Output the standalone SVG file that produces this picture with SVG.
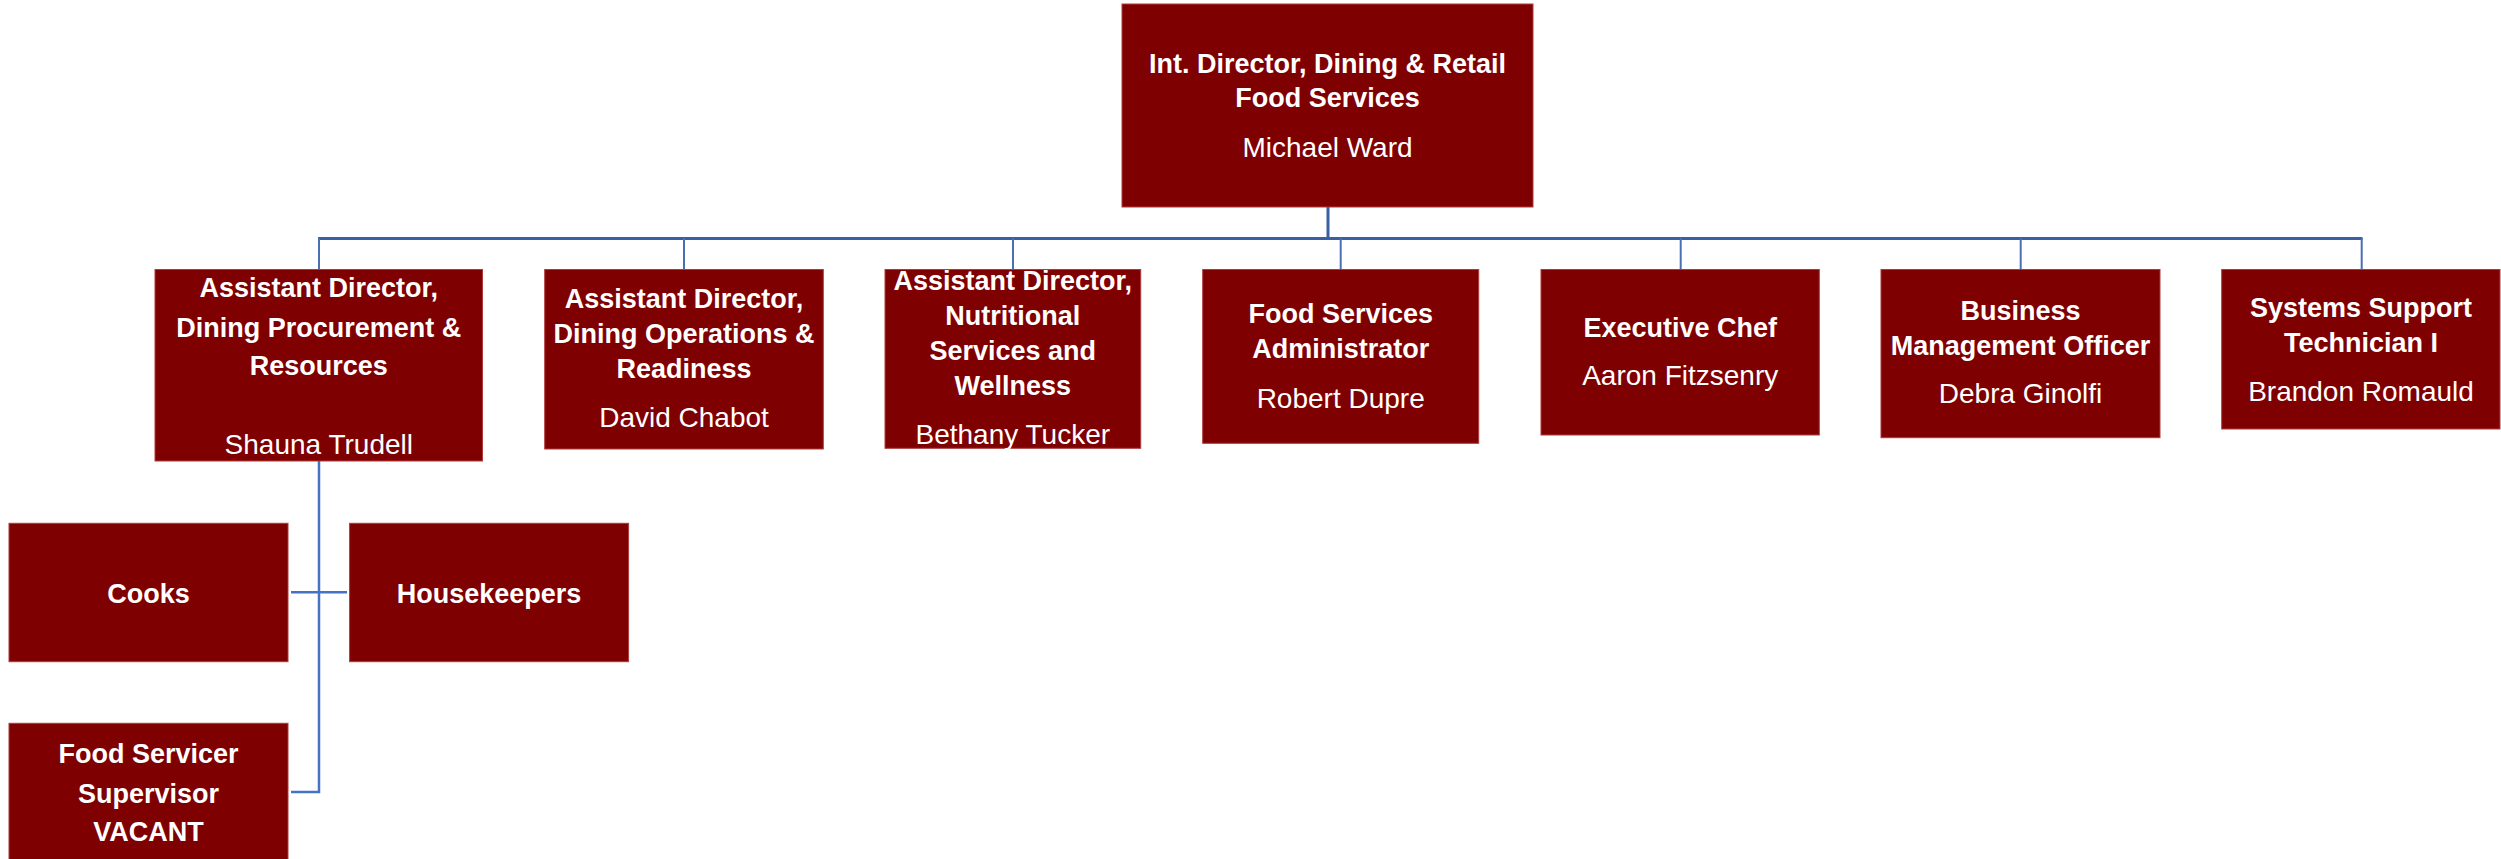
<svg xmlns="http://www.w3.org/2000/svg" width="2501" height="859" viewBox="0 0 2501 859">
<style>
.box{fill:#7F0000;stroke:#B03A3A;stroke-width:1}
.t{font-family:"Liberation Sans",Arial,sans-serif;font-weight:bold;font-size:27px;fill:#FFFFFF;text-anchor:middle}
.n{font-family:"Liberation Sans",Arial,sans-serif;font-size:28px;fill:#FFFFFF;text-anchor:middle}
.bus{fill:none;stroke:#3B5FA3;stroke-width:3}
.drop{fill:none;stroke:#4A6FB5;stroke-width:2}
.sub{fill:none;stroke:#4472C4;stroke-width:2.5}
</style>
<rect width="2501" height="859" fill="#FFFFFF"/>
<g id="connectors">
<line class="bus" x1="1328" y1="207" x2="1328" y2="238.5"/>
<line class="bus" x1="318" y1="238.5" x2="2362.5" y2="238.5"/>
<line class="drop" x1="319" y1="238" x2="319" y2="269"/>
<line class="drop" x1="684" y1="238" x2="684" y2="269"/>
<line class="drop" x1="1013" y1="238" x2="1013" y2="269"/>
<line class="drop" x1="1340.7" y1="238" x2="1340.7" y2="269"/>
<line class="drop" x1="1680.7" y1="238" x2="1680.7" y2="269"/>
<line class="drop" x1="2020.7" y1="238" x2="2020.7" y2="269"/>
<line class="drop" x1="2361.7" y1="238" x2="2361.7" y2="269"/>
<polyline class="sub" points="319,461 319,792 291,792"/>
<line class="sub" x1="291" y1="592.3" x2="347" y2="592.3"/>
</g>
<g id="director">
<rect class="box" x="1122" y="4" width="411" height="203"/>
<text class="t" x="1327.5" y="72.7" font-size="28">Int. Director, Dining &amp; Retail</text>
<text class="t" x="1327.5" y="107.3" font-size="28">Food Services</text>
<text class="n" x="1327.5" y="156.7">Michael Ward</text>
</g>
<g id="ad-procurement">
<rect class="box" x="155" y="269.5" width="327.5" height="191.5"/>
<text class="t" x="318.8" y="297.3">Assistant Director,</text>
<text class="t" x="318.8" y="336.7">Dining Procurement &amp;</text>
<text class="t" x="318.8" y="375">Resources</text>
<text class="n" x="318.8" y="454">Shauna Trudell</text>
</g>
<g id="ad-operations">
<rect class="box" x="544.7" y="269.5" width="278.6" height="179.5"/>
<text class="t" x="684" y="308.3">Assistant Director,</text>
<text class="t" x="684" y="343.3">Dining Operations &amp;</text>
<text class="t" x="684" y="378.3">Readiness</text>
<text class="n" x="684" y="426.7">David Chabot</text>
</g>
<g id="ad-nutrition">
<rect class="box" x="885" y="269.5" width="255.7" height="178.8"/>
<text class="t" x="1012.8" y="290">Assistant Director,</text>
<text class="t" x="1012.8" y="325">Nutritional</text>
<text class="t" x="1012.8" y="360">Services and</text>
<text class="t" x="1012.8" y="395">Wellness</text>
<text class="n" x="1012.8" y="444">Bethany Tucker</text>
</g>
<g id="fs-admin">
<rect class="box" x="1202.7" y="269.5" width="276" height="173.8"/>
<text class="t" x="1340.7" y="323.3">Food Services</text>
<text class="t" x="1340.7" y="358.3">Administrator</text>
<text class="n" x="1340.7" y="407.7">Robert Dupre</text>
</g>
<g id="exec-chef">
<rect class="box" x="1541" y="269.5" width="278.3" height="165.5"/>
<text class="t" x="1680.2" y="336.7">Executive Chef</text>
<text class="n" x="1680.2" y="385">Aaron Fitzsenry</text>
</g>
<g id="bmo">
<rect class="box" x="1881" y="269.5" width="279" height="168.2"/>
<text class="t" x="2020.5" y="320">Business</text>
<text class="t" x="2020.5" y="355">Management Officer</text>
<text class="n" x="2020.5" y="403.3">Debra Ginolfi</text>
</g>
<g id="sys-support">
<rect class="box" x="2221.7" y="269.5" width="278.3" height="159.5"/>
<text class="t" x="2361" y="316.7">Systems Support</text>
<text class="t" x="2361" y="351.7">Technician I</text>
<text class="n" x="2361" y="400.7">Brandon Romauld</text>
</g>
<g id="cooks">
<rect class="box" x="9" y="523.3" width="279" height="138.4"/>
<text class="t" x="148.5" y="602.7">Cooks</text>
</g>
<g id="housekeepers">
<rect class="box" x="349.6" y="523.3" width="279" height="138.4"/>
<text class="t" x="489" y="602.7">Housekeepers</text>
</g>
<g id="food-servicer-supervisor">
<rect class="box" x="9" y="723.3" width="279" height="140"/>
<text class="t" x="148.5" y="763.3">Food Servicer</text>
<text class="t" x="148.5" y="802.7">Supervisor</text>
<text class="t" x="148.5" y="841">VACANT</text>
</g>
</svg>
